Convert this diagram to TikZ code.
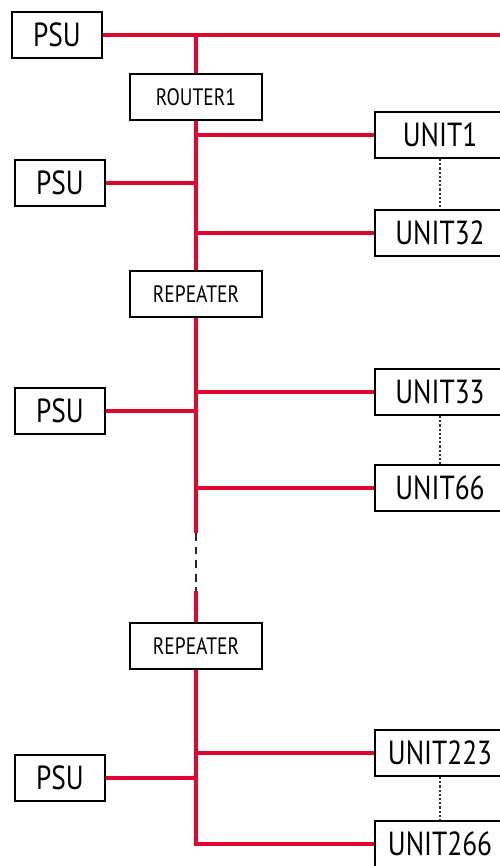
\documentclass[tikz,border=0pt]{standalone}
\usepackage{fontspec}
\setmainfont[FakeStretch=0.82]{PT Sans}
\usetikzlibrary{positioning, calc}
\definecolor{rojoCable}{HTML}{E0062D}
\tikzset{
  cajaBase/.style={
    draw=black, line width=1.1pt, inner sep=0pt,
    align=center, fill=white
  },
  cajaPSU/.style={cajaBase, minimum width=1.8cm, minimum height=0.92cm, font=\fontsize{19}{22}\selectfont},
  cajaRed/.style={cajaBase, minimum width=2.64cm, minimum height=0.93cm, font=\fontsize{13.5}{16}\selectfont},
  cajaUnidad/.style={cajaBase, minimum width=2.6cm, minimum height=0.92cm, font=\fontsize{19}{22}\selectfont},
  cable/.style={draw=rojoCable, line width=2pt},
  corte/.style={draw=black!85, line width=0.9pt, dash pattern=on 4.5pt off 3.2pt},
  puntos/.style={draw=black!80, line width=0.6pt, dash pattern=on 1.2pt off 1.2pt},
}
\begin{document}
\begin{tikzpicture}[x=0.02cm, y=-0.02cm]
    \useasboundingbox (0,0) rectangle (500,866);
    \clip (0,0) rectangle (500,866);
    % fuentes
    \node[cajaPSU] (psuA) at (57,35) {PSU};
    \node[cajaPSU] (psuB) at (60,183) {PSU};
    \node[cajaPSU] (psuC) at (60,411) {PSU};
    \node[cajaPSU] (psuD) at (60,778) {PSU};
    % router y repetidores
    \node[cajaRed] (router) at (196,97) {ROUTER1};
    \node[cajaRed] (repA) at (196,294) {REPEATER};
    \node[cajaRed] (repB) at (196,646) {REPEATER};
    % unidades
    \node[cajaUnidad] (unitA) at (440,135) {UNIT1};
    \node[cajaUnidad] (unitB) at (440,233) {UNIT32};
    \node[cajaUnidad] (unitC) at (440,392) {UNIT33};
    \node[cajaUnidad] (unitD) at (440,488) {UNIT66};
    \node[cajaUnidad] (unitE) at (440,753) {UNIT223};
    \node[cajaUnidad] (unitF) at (440,844) {UNIT266};
    \coordinate (salida) at (500,35);
    \coordinate (corteA) at (196,533);
    \coordinate (corteB) at (196,591);
    % cables
    \draw[cable] (psuA.east) -- (salida);
    \draw[cable] (router.north) -- (router.north |- psuA.east);
    \draw[cable] (router.south) -- (repA.north);
    \draw[cable] (psuB.east) -- (psuB.east -| router.south);
    \draw[cable] (unitA.west) -- (unitA.west -| router.south);
    \draw[cable] (unitB.west) -- (unitB.west -| router.south);
    \draw[cable] (repA.south) -- (corteA);
    \draw[corte] (corteA) -- (corteB);
    \draw[cable] (corteB) -- (repB.north);
    \draw[cable] (psuC.east) -- (psuC.east -| repA.south);
    \draw[cable] (unitC.west) -- (unitC.west -| repA.south);
    \draw[cable] (unitD.west) -- (unitD.west -| repA.south);
    \draw[cable] (repB.south) |- (unitF.west);
    \draw[cable] (psuD.east) -- (psuD.east -| repB.south);
    \draw[cable] (unitE.west) -- (unitE.west -| repB.south);
    % puntos entre unidades
    \draw[puntos] (unitA.south) -- (unitB.north);
    \draw[puntos] (unitC.south) -- (unitD.north);
    \draw[puntos] (unitE.south) -- (unitF.north);
\end{tikzpicture}
\end{document}
